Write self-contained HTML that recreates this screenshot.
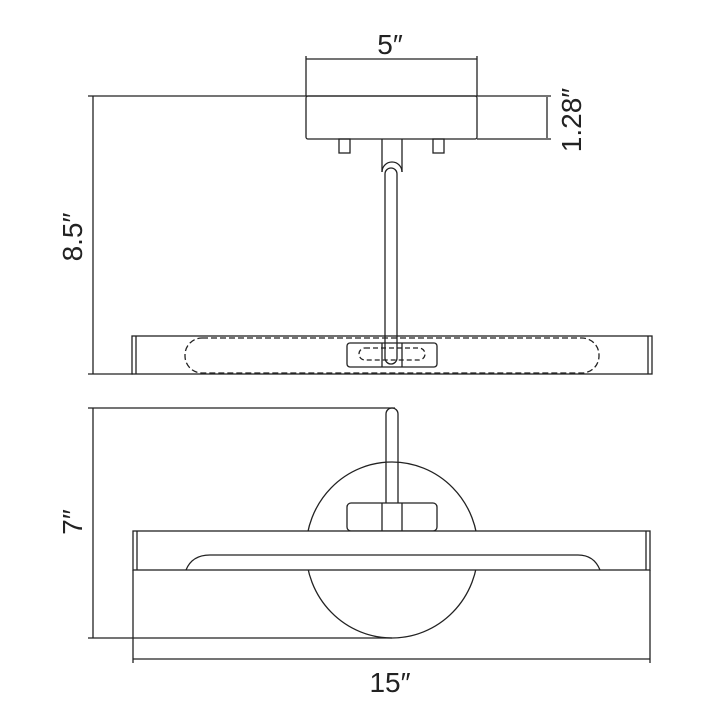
<!DOCTYPE html>
<html><head><style>body{margin:0;background:#fff}svg{display:block}</style></head>
<body>
<svg width="720" height="720" viewBox="0 0 720 720" xmlns="http://www.w3.org/2000/svg" font-family="Liberation Sans, sans-serif">
<g stroke="#222" fill="none" stroke-width="1.3">
<!-- top view dims -->
<line x1="306" y1="56" x2="306" y2="96"/><line x1="477" y1="56" x2="477" y2="96"/>
<line x1="306" y1="59" x2="477" y2="59"/>
<line x1="88" y1="96" x2="551" y2="96"/>
<line x1="477" y1="139" x2="551" y2="139"/>
<line x1="547" y1="97" x2="547" y2="138"/>
<line x1="93" y1="96" x2="93" y2="374"/>
<line x1="88" y1="374" x2="133" y2="374"/>
<!-- canopy -->
<rect x="306" y="96" width="171" height="43" rx="2"/>
<rect x="339" y="139" width="11" height="14"/><rect x="433" y="139" width="11" height="14"/>
<path d="M382 139 V172 M402 139 V172"/>
<path d="M382 172 A10 10 0 0 1 402 172"/>
<path d="M385 358 V174 A6 6 0 0 1 397 174 V358 A6 6 0 0 1 385 358"/>
<!-- bar -->
<rect x="132" y="336" width="520" height="38"/>
<line x1="136" y1="336" x2="136" y2="374"/>
<line x1="648" y1="336" x2="648" y2="374"/>
<rect x="185" y="338" width="414" height="35" rx="17" stroke-dasharray="6 3"/>
<rect x="347" y="343" width="90" height="24" rx="3"/>
<line x1="382" y1="343" x2="382" y2="367"/><line x1="402" y1="343" x2="402" y2="367"/>
<rect x="359" y="348" width="66" height="12" rx="6" stroke-dasharray="5 3"/>
<!-- side view -->
<line x1="88" y1="408" x2="395" y2="408"/>
<line x1="93" y1="408" x2="93" y2="638"/>
<line x1="88" y1="638" x2="392" y2="638"/>
<ellipse cx="392" cy="550" rx="86" ry="88"/>
<path d="M386 503 V414 A6 6 0 0 1 398 414 V503"/>
<rect x="347" y="503" width="90" height="28" rx="4" fill="#fff"/>
<line x1="382" y1="503" x2="382" y2="531"/><line x1="402" y1="503" x2="402" y2="531"/>
<rect x="133" y="531" width="517" height="39" fill="#fff"/>
<line x1="137" y1="531" x2="137" y2="570"/><line x1="646" y1="531" x2="646" y2="570"/>
<path d="M186 570 Q192 555 210 555 H578 Q594 555 600 570"/>
<line x1="133" y1="570" x2="133" y2="663"/><line x1="650" y1="570" x2="650" y2="663"/>
<line x1="133" y1="659" x2="650" y2="659"/>
</g>
<g fill="#222" font-size="28">
<text x="390" y="54" text-anchor="middle">5″</text>
<text x="390" y="692" text-anchor="middle">15″</text>
<text transform="translate(82,237) rotate(-90)" text-anchor="middle">8.5″</text>
<text transform="translate(82,522) rotate(-90)" text-anchor="middle">7″</text>
<text transform="translate(581,120) rotate(-90)" text-anchor="middle">1.28″</text>
</g>
</svg>
</body></html>
